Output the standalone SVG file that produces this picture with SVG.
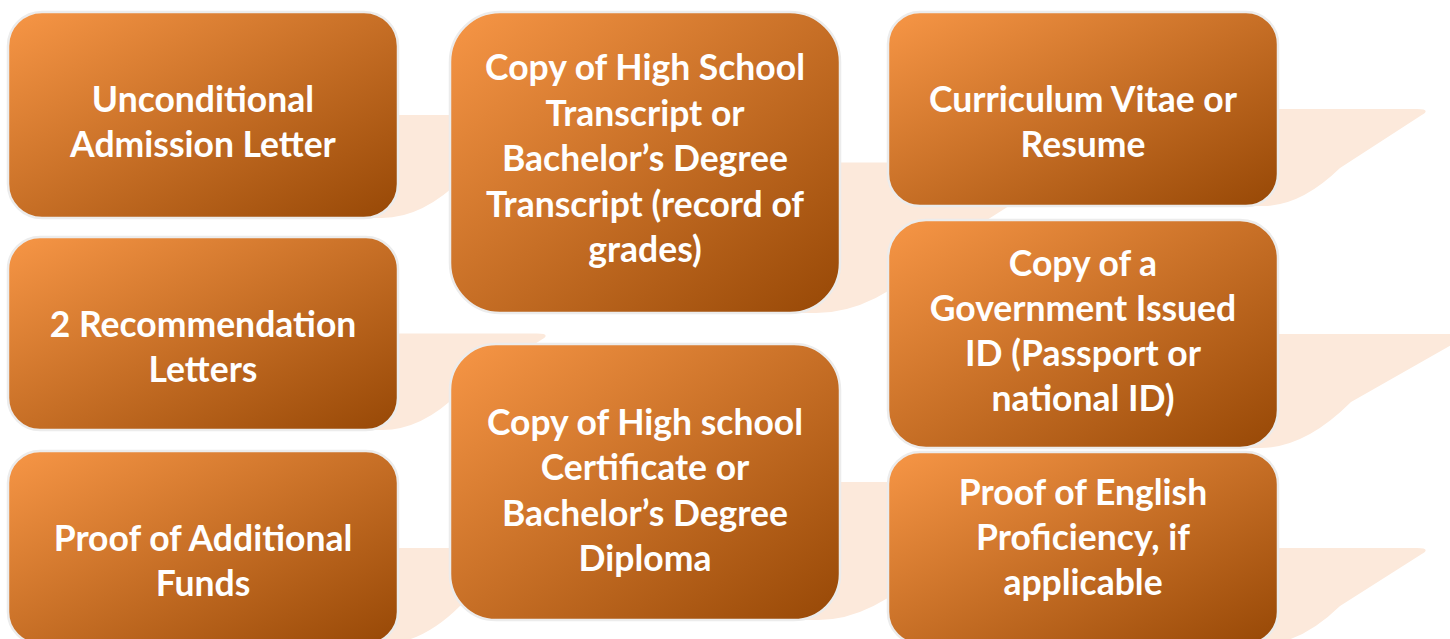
<svg xmlns="http://www.w3.org/2000/svg" width="1450" height="639" viewBox="0 0 1450 639">
<defs>
<linearGradient id="g" x1="0" y1="0" x2="1" y2="1">
<stop offset="0" stop-color="#F79646"/>
<stop offset="1" stop-color="#974806"/>
</linearGradient>
<style>
.box{fill:url(#g);stroke:#ececec;stroke-width:2.5}
.wedge{fill:#FCE9DB}
text{font-family:Lato,"Open Sans","Liberation Sans",sans-serif;font-weight:bold;font-size:35.5px;fill:#ffffff;text-anchor:middle}
</style>
</defs>
<rect width="1450" height="639" fill="#ffffff"/>
<g id="wedges">
<path class="wedge" d="M 60 115 H 548 Q 563 115 552 121.6 L 464 177 Q 423 218 382 218 H 60 Z"/>
<path class="wedge" d="M 60 333.5 H 537 Q 552 333.5 541 340.1 L 460 392 Q 422 430 382 430 H 60 Z"/>
<path class="wedge" d="M 60 548 H 537 Q 552 548 541 554.6 L 460 606 Q 422 644 382 644 H 60 Z"/>
<path class="wedge" d="M 500 162.5 H 1063 Q 1078 162.5 1067 169.1 L 935 253 Q 876 313 816 313 H 500 Z"/>
<path class="wedge" d="M 500 482 H 1046 Q 1061 482 1050 488.6 L 928 565 Q 873 620 818 620 H 500 Z"/>
<path class="wedge" d="M 940 109 H 1417 Q 1432 109 1421 115.6 L 1340 168 Q 1301 206 1263 206 H 940 Z"/>
<path class="wedge" d="M 940 334 H 1455 Q 1470 334 1459 340.6 L 1351 402 Q 1305 448 1260 448 H 940 Z"/>
<path class="wedge" d="M 940 548 H 1417 Q 1432 548 1421 554.6 L 1340 606 Q 1301 644 1263 644 H 940 Z"/>
</g>
<g id="connectors"></g>
<g id="n1"><rect class="box" x="8" y="12" width="390" height="206" rx="34"/>
<text x="203" y="112">Unconditional</text><text x="203" y="157">Admission Letter</text></g>
<g id="n2"><rect class="box" x="8" y="237" width="390" height="193" rx="32"/>
<text x="203" y="337">2 Recommendation</text><text x="203" y="382">Letters</text></g>
<g id="n3"><rect class="box" x="8" y="451" width="390" height="193" rx="32"/>
<text x="203" y="551">Proof of Additional</text><text x="203" y="596">Funds</text></g>
<g id="n4"><rect class="box" x="450" y="12" width="390" height="301" rx="50"/>
<text x="645" y="80">Copy of High School</text><text x="645" y="125.5">Transcript or</text><text x="645" y="171">Bachelor’s Degree</text><text x="645" y="216.5">Transcript (record of</text><text x="645" y="262">grades)</text></g>
<g id="n5"><rect class="box" x="450" y="344" width="390" height="276" rx="46"/>
<text x="645" y="435">Copy of High school</text><text x="645" y="480">Certificate or</text><text x="645" y="526">Bachelor’s Degree</text><text x="645" y="571">Diploma</text></g>
<g id="n6"><rect class="box" x="888" y="12" width="390" height="194" rx="32"/>
<text x="1083" y="112">Curriculum Vitae or</text><text x="1083" y="157">Resume</text></g>
<g id="n7"><rect class="box" x="888" y="220" width="390" height="228" rx="38"/>
<text x="1083" y="276">Copy of a</text><text x="1083" y="321">Government Issued</text><text x="1083" y="366">ID (Passport or</text><text x="1083" y="411">national ID)</text></g>
<g id="n8"><rect class="box" x="888" y="452" width="390" height="192" rx="32"/>
<text x="1083" y="505">Proof of English</text><text x="1083" y="550">Proficiency, if</text><text x="1083" y="595">applicable</text></g>
</svg>
